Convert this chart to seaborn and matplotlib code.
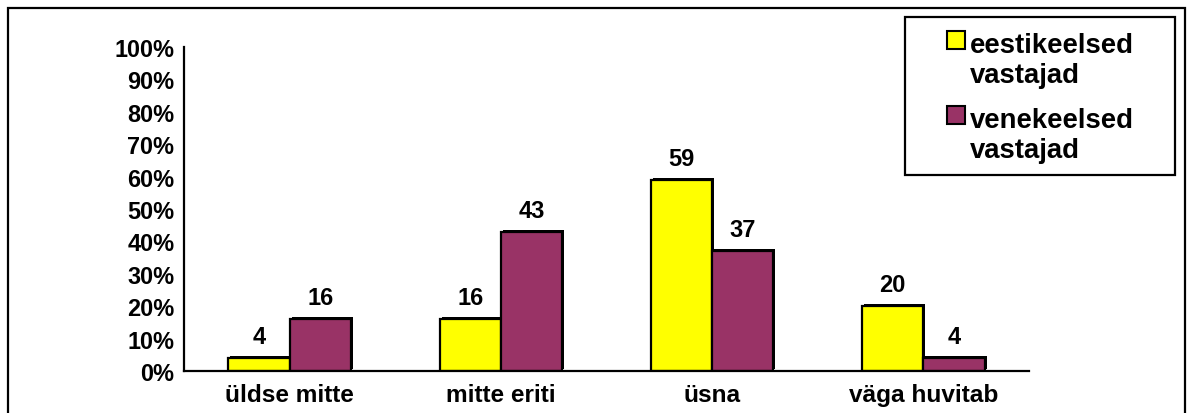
import matplotlib
matplotlib.use("Agg")
import matplotlib.pyplot as plt
import matplotlib.patheffects as pe
from matplotlib.patches import Rectangle
import numpy as np
import pandas as pd
import seaborn as sns

categories = ["üldse mitte", "mitte eriti", "üsna", "väga huvitab"]
series_names = ["eestikeelsed\nvastajad", "venekeelsed\nvastajad"]
estonian = [4, 16, 59, 20]
russian = [16, 43, 37, 4]
y_ticks = [0, 10, 20, 30, 40, 50, 60, 70, 80, 90, 100]
colors = ["#FFFF00", "#993366"]

df = pd.DataFrame({
    "category": categories * 2,
    "group": [series_names[0]] * 4 + [series_names[1]] * 4,
    "value": estonian + russian,
})

sns.set_style("white")
plt.rcParams["font.family"] = ["Liberation Sans", "DejaVu Sans"]
plt.rcParams["font.weight"] = "bold"
plt.rcParams["text.color"] = "black"
plt.rcParams["xtick.color"] = "black"
plt.rcParams["ytick.color"] = "black"

W, H = 1188, 414
fig = plt.figure(figsize=(W / 100, H / 100), dpi=100)
fig.patch.set_facecolor("white")


def fx(px):
    return px / W


def fy(py):
    return 1 - py / H


# plot area in pixel units
x0, x1, y0, y1 = 184, 1029, 48, 372
ax = fig.add_axes([fx(x0), fy(y1), (x1 - x0) / W, (y1 - y0) / H])

sns.barplot(data=df, x="category", y="value", hue="group", order=categories,
            hue_order=series_names, palette=colors, width=0.58, gap=0,
            edgecolor="black", linewidth=1.6, saturation=1, ax=ax, legend=False)

shadow = [pe.SimplePatchShadow(offset=(1.4, 1.4), shadow_rgbFace="black", alpha=1), pe.Normal()]
for p in ax.patches:
    p.set_path_effects(shadow)

for cont in ax.containers:
    ax.bar_label(cont, labels=[f"{v:.0f}" for v in cont.datavalues], padding=7,
                 fontsize=17, fontweight="bold", color="black")

ax.set_xlim(-0.5, 3.5)
ax.set_ylim(0, 100)
ax.set_yticks(y_ticks)
ax.set_yticklabels([f"{t}%" for t in y_ticks], fontsize=16.9, fontweight="bold")
ax.set_xticks(np.arange(-0.5, 4, 1.0))
ax.set_xticklabels([])
ax.set_xticks(range(len(categories)), minor=True)
ax.set_xticklabels(categories, minor=True, fontsize=17.6, fontweight="bold")
ax.tick_params(axis="x", which="major", direction="out", length=5, width=1.5, color="black")
ax.tick_params(axis="x", which="minor", length=0, pad=9)
ax.tick_params(axis="y", direction="out", length=5, width=1.5, color="black", pad=2)
ax.set_xlabel("")
ax.set_ylabel("")
for s in ["top", "right"]:
    ax.spines[s].set_visible(False)
for s in ["left", "bottom"]:
    ax.spines[s].set_color("black")
    ax.spines[s].set_linewidth(1.6)

# legend box with one swatch per series (two-line labels, swatch beside first line)
fig.patches.append(Rectangle((fx(905), fy(176)), (1175 - 905) / W, (176 - 18) / H,
                             transform=fig.transFigure, fill=True, facecolor="white",
                             edgecolor="black", linewidth=1.6))
first_baselines = [50, 125]
line_step = 33
for name, color, base in zip(series_names, colors, first_baselines):
    fig.patches.append(Rectangle((fx(947), fy(base)), 18 / W, 18 / H,
                                 transform=fig.transFigure, facecolor=color,
                                 edgecolor="black", linewidth=1.5))
    n_lines = name.count("\n") + 1
    fig.text(fx(970), fy(base + line_step * (n_lines - 1)), name, ha="left",
             va="baseline", fontsize=19.8, fontweight="bold", color="black",
             linespacing=1.2)

# outer chart-area frame
fig.patches.append(Rectangle((fx(8), -0.1), (1185 - 8) / W, 1 - 9 / H + 0.1,
                             transform=fig.transFigure, fill=False,
                             edgecolor="black", linewidth=1.6, clip_on=False))

fig.savefig("out.png", dpi=100, facecolor="white")
